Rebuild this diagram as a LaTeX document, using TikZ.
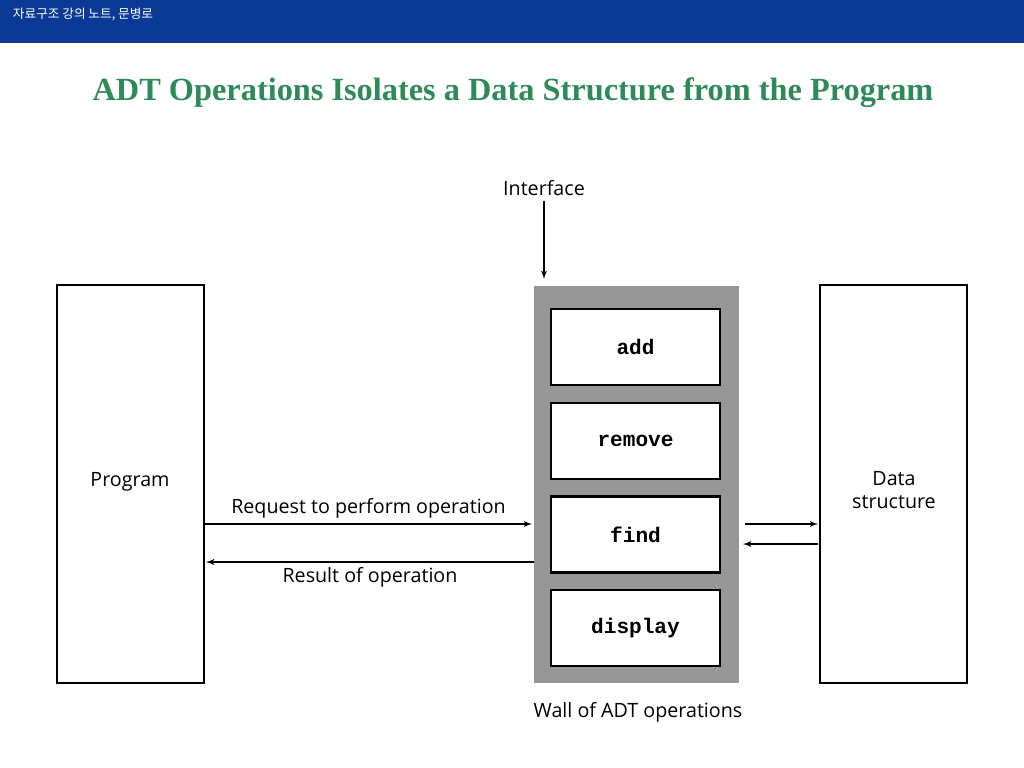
\documentclass[tikz,border=0pt]{standalone}
\usepackage{fontspec}
\setmainfont{Open Sans}
\newfontfamily\titlefont{Liberation Serif}
\newfontfamily\codefont{Liberation Mono}
\newfontfamily\krfont{Noto Sans CJK KR}
\usetikzlibrary{arrows,positioning}
\definecolor{barblue}{RGB}{10,58,150}
\definecolor{titlegreen}{RGB}{46,139,87}
\definecolor{wallgray}{RGB}{150,150,150}
\tikzset{
    bigbox/.style={draw=black, line width=2pt, fill=white},
    opbox/.style={draw=black, line width=2pt, fill=white, minimum width=169*0.025cm,
        minimum height=76*0.025cm, font=\codefont\bfseries\fontsize{15}{17}\selectfont},
    lbl/.style={font=\fontsize{14}{16}\selectfont},
    line/.style={draw, line width=1pt, -latex'},
}
\begin{document}
\begin{tikzpicture}[x=0.025cm, y=-0.025cm]
	\useasboundingbox (0,0) rectangle (1024,768);
	\fill[barblue] (0,0) rectangle (1024,43);
	\node[anchor=west, text=white, font=\krfont\fontsize{9}{10}\selectfont] (hdr) at (8,14) {자료구조 강의 노트, 문병로};
	\node[text=titlegreen, font=\titlefont\bfseries\fontsize{23}{26}\selectfont] (title) at (513,93)
		{ADT Operations Isolates a Data Structure from the Program};
	% boxes
	\draw[bigbox] (57,285) rectangle (204,683);
	\node (prog) at (130.5,484) {};
	\node[lbl] at (130,482) {Program};
	\fill[wallgray] (534,286) rectangle (739,683);
	\node (wall) at (636.5,484) {};
	\draw[bigbox] (820,285) rectangle (967,683);
	\node[lbl, align=center] at (894,490) {Data\\structure};
	\node[opbox] (add) at (635.5,347) {add};
	\node[opbox] (remove) at (635.5,441) {remove};
	\node[opbox] (find) at (635.5,534.5) {find};
	\node[opbox] (display) at (635.5,628) {display};
	% labels
	\node[lbl] (iface) at (544,188) {Interface};
	\coordinate (ifaceend) at (544,279);
	\draw[line] (iface.south) -- (ifaceend);
	\node[lbl] (wlbl) at (638,712) {Wall of ADT operations};
	% program <-> wall
	\coordinate (reqs) at (205,524);
	\coordinate (reqe) at (532,524);
	\coordinate (ress) at (534,562);
	\coordinate (rese) at (206,562);
	\draw[line] (reqs) -- node[lbl, above=0pt] {Request to perform operation} (reqe);
	\draw[line] (ress) -- node[lbl, below=0pt] {Result of operation} (rese);
	% wall <-> data structure
	\coordinate (dsa) at (745,524);
	\coordinate (dsb) at (818,524);
	\coordinate (dsc) at (818,544);
	\coordinate (dsd) at (743,544);
	\draw[line] (dsa) -- (dsb);
	\draw[line] (dsc) -- (dsd);
\end{tikzpicture}
\end{document}
